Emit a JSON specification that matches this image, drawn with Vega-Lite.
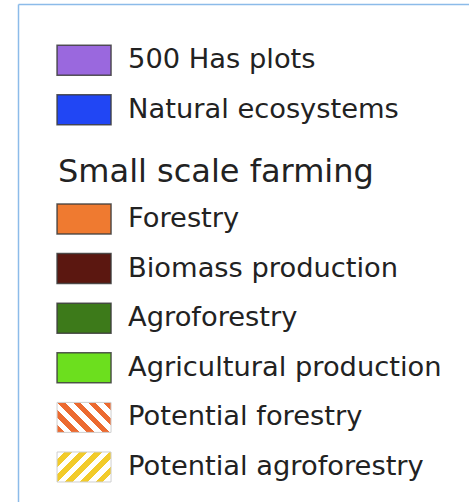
{
  "$schema": "https://vega.github.io/schema/vega-lite/v6.json",
  "width": 451,
  "height": 498,
  "autosize": {"type": "none"},
  "padding": {"left": 18, "top": 4, "right": 0, "bottom": 0},
  "background": "white",
  "config": {
    "view": {"stroke": null},
    "axis": {"labels": false, "ticks": false, "grid": false, "title": null, "domainColor": "#8cbbe9", "domainWidth": 1.5}
  },
  "data": {
    "values": [
      {"label": "500 Has plots", "group": "top", "kind": "solid"},
      {"label": "Natural ecosystems", "group": "top", "kind": "solid"},
      {"label": "Small scale farming", "group": "heading", "kind": "heading"},
      {"label": "Forestry", "group": "bottom", "kind": "solid"},
      {"label": "Biomass production", "group": "bottom", "kind": "solid"},
      {"label": "Agroforestry", "group": "bottom", "kind": "solid"},
      {"label": "Agricultural production", "group": "bottom", "kind": "solid"},
      {"label": "Potential forestry", "group": "bottom", "kind": "hatch"},
      {"label": "Potential agroforestry", "group": "bottom", "kind": "hatch"}
    ]
  },
  "encoding": {
    "y": {
      "field": "label",
      "type": "nominal",
      "axis": {"orient": "left"},
      "scale": {
        "type": "band",
        "domain": ["500 Has plots", "Natural ecosystems", "Small scale farming", "Forestry", "Biomass production", "Agroforestry", "Agricultural production", "Potential forestry", "Potential agroforestry"],
        "paddingInner": 0.3952,
        "paddingOuter": 0.7177,
        "align": 0.719,
        "round": false
      }
    }
  },
  "layer": [
    {
      "transform": [{"filter": "datum.kind === 'solid' && datum.group === 'top'"}],
      "mark": {"type": "rect", "yOffset": -10, "y2Offset": -10, "stroke": "#3c3c3c", "strokeWidth": 1.5, "strokeOpacity": 0.85},
      "encoding": {
        "x": {
          "datum": "swatch",
          "type": "nominal",
          "axis": {"orient": "top"},
          "scale": {"type": "band", "domain": ["swatch", "label", "r1", "r2", "r3", "r4"], "paddingInner": 0.2394, "paddingOuter": 0.296, "align": 0.929, "round": false}
        },
        "color": {
          "field": "label",
          "type": "nominal",
          "legend": null,
          "scale": {
            "domain": ["500 Has plots", "Natural ecosystems", "Forestry", "Biomass production", "Agroforestry", "Agricultural production"],
            "range": ["#9a68de", "#2146f4", "#ef7a30", "#5b1710", "#3d7a1a", "#6cdf1e"]
          }
        }
      }
    },
    {
      "transform": [{"filter": "datum.kind === 'solid' && datum.group === 'bottom'"}],
      "mark": {"type": "rect", "stroke": "#3c3c3c", "strokeWidth": 1.5, "strokeOpacity": 0.85},
      "encoding": {
        "x": {"datum": "swatch", "type": "nominal"},
        "color": {"field": "label", "type": "nominal", "legend": null}
      }
    },
    {
      "transform": [{"filter": "datum.label === 'Potential forestry'"}],
      "mark": {
        "type": "rect",
        "stroke": "#cfcfcf",
        "strokeWidth": 1,
        "fill": {
          "gradient": "linear",
          "x1": -0.094, "y1": 0.83, "x2": 1.094, "y2": 0.17,
          "stops": [
            {"offset": 0, "color": "#ec6a30"}, {"offset": 0.09, "color": "#ec6a30"},
            {"offset": 0.09, "color": "#ffffff"}, {"offset": 0.18, "color": "#ffffff"},
            {"offset": 0.18, "color": "#ec6a30"}, {"offset": 0.27, "color": "#ec6a30"},
            {"offset": 0.27, "color": "#ffffff"}, {"offset": 0.36, "color": "#ffffff"},
            {"offset": 0.36, "color": "#ec6a30"}, {"offset": 0.45, "color": "#ec6a30"},
            {"offset": 0.45, "color": "#ffffff"}, {"offset": 0.54, "color": "#ffffff"},
            {"offset": 0.54, "color": "#ec6a30"}, {"offset": 0.63, "color": "#ec6a30"},
            {"offset": 0.63, "color": "#ffffff"}, {"offset": 0.72, "color": "#ffffff"},
            {"offset": 0.72, "color": "#ec6a30"}, {"offset": 0.81, "color": "#ec6a30"},
            {"offset": 0.81, "color": "#ffffff"}, {"offset": 0.9, "color": "#ffffff"},
            {"offset": 0.9, "color": "#ec6a30"}, {"offset": 1, "color": "#ec6a30"}
          ]
        }
      },
      "encoding": {"x": {"datum": "swatch", "type": "nominal"}}
    },
    {
      "transform": [{"filter": "datum.label === 'Potential agroforestry'"}],
      "mark": {
        "type": "rect",
        "stroke": "#cfcfcf",
        "strokeWidth": 1,
        "fill": {
          "gradient": "linear",
          "x1": -0.094, "y1": 0.17, "x2": 1.094, "y2": 0.83,
          "stops": [
            {"offset": 0, "color": "#ffffff"}, {"offset": 0.09, "color": "#ffffff"},
            {"offset": 0.09, "color": "#f2cb2a"}, {"offset": 0.18, "color": "#f2cb2a"},
            {"offset": 0.18, "color": "#ffffff"}, {"offset": 0.27, "color": "#ffffff"},
            {"offset": 0.27, "color": "#f2cb2a"}, {"offset": 0.36, "color": "#f2cb2a"},
            {"offset": 0.36, "color": "#ffffff"}, {"offset": 0.45, "color": "#ffffff"},
            {"offset": 0.45, "color": "#f2cb2a"}, {"offset": 0.54, "color": "#f2cb2a"},
            {"offset": 0.54, "color": "#ffffff"}, {"offset": 0.63, "color": "#ffffff"},
            {"offset": 0.63, "color": "#f2cb2a"}, {"offset": 0.72, "color": "#f2cb2a"},
            {"offset": 0.72, "color": "#ffffff"}, {"offset": 0.81, "color": "#ffffff"},
            {"offset": 0.81, "color": "#f2cb2a"}, {"offset": 0.9, "color": "#f2cb2a"},
            {"offset": 0.9, "color": "#ffffff"}, {"offset": 1, "color": "#ffffff"}
          ]
        }
      },
      "encoding": {"x": {"datum": "swatch", "type": "nominal"}}
    },
    {
      "transform": [{"filter": "datum.group === 'top'"}],
      "mark": {"type": "text", "align": "left", "baseline": "middle", "font": "DejaVu Sans", "fontSize": 27.3, "color": "#222222", "dy": -10},
      "encoding": {
        "x": {"datum": "label", "type": "nominal", "bandPosition": 0},
        "text": {"field": "label"}
      }
    },
    {
      "transform": [{"filter": "datum.group === 'bottom'"}],
      "mark": {"type": "text", "align": "left", "baseline": "middle", "font": "DejaVu Sans", "fontSize": 27.3, "color": "#222222"},
      "encoding": {
        "x": {"datum": "label", "type": "nominal", "bandPosition": 0},
        "text": {"field": "label"}
      }
    },
    {
      "transform": [{"filter": "datum.kind === 'heading'"}],
      "mark": {"type": "text", "align": "left", "baseline": "middle", "font": "DejaVu Sans", "fontSize": 32, "color": "#222222", "dy": 3, "dx": 1},
      "encoding": {
        "x": {"datum": "swatch", "type": "nominal", "bandPosition": 0},
        "text": {"field": "label"}
      }
    }
  ]
}
